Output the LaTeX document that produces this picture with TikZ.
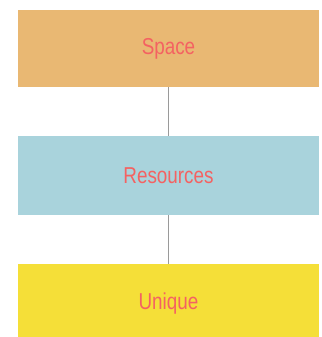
\documentclass[tikz,border=0pt]{standalone}
\usepackage{fontspec}
\newfontfamily\labelfont[FakeStretch=0.82]{Liberation Sans}
\definecolor{tanbox}{HTML}{E9B873}
\definecolor{bluebox}{HTML}{A9D3DC}
\definecolor{yellowbox}{HTML}{F5DF38}
\definecolor{labelred}{HTML}{F46262}
\definecolor{linkgray}{HTML}{9A9A9A}
\begin{document}
\begin{tikzpicture}[x=1pt,y=-1pt,
  boxstyle/.style={draw=none,minimum width=301pt,inner sep=0pt,
    font=\labelfont\fontsize{23}{23}\selectfont,text=labelred},
  link/.style={draw=linkgray,line width=1pt}]
\useasboundingbox (0,0) rectangle (321,337);
\fill[white] (0,0) rectangle (321,337);
\node[boxstyle,fill=tanbox,minimum height=77pt] (space) at (168.5,48.5) {Space};
\node[boxstyle,fill=bluebox,minimum height=79pt] (res) at (168.5,175.5) {Resources};
\node[boxstyle,fill=yellowbox,minimum height=80pt] (uni) at (168.5,304) {Unique};
\draw[link] (space.south) -- (res.north);
\draw[link] (res.south) -- (uni.north);
\end{tikzpicture}
\end{document}
